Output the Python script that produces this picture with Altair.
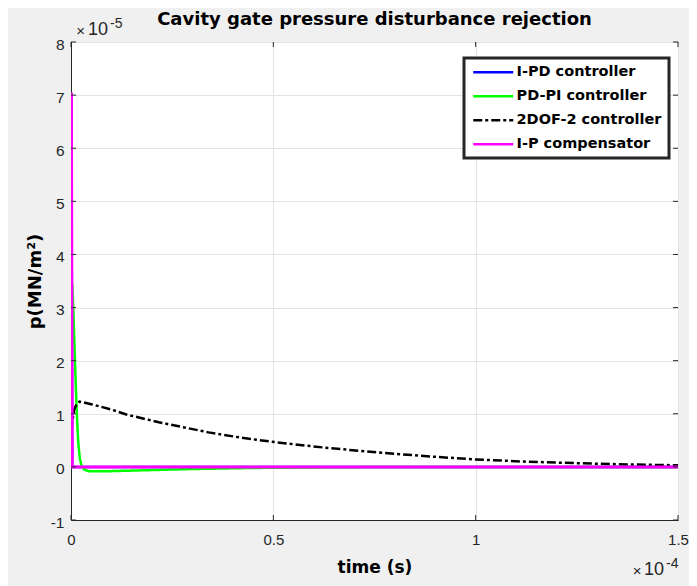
import altair as alt
import pandas as pd

series_names = ["I-PD controller", "PD-PI controller", "2DOF-2 controller", "I-P compensator"]
series_colors = ["#0000ff", "#00ff00", "#000000", "#ff00ff"]
series_dashes = [[1, 0], [1, 0], [9, 3, 3, 3], [1, 0]]
series_widths = [2.5, 2.5, 2.5, 3]

# time in units of 1e-4 s, pressure in units of 1e-5 MN/m^2
ipd_t = [0.0, 0.001, 0.003, 1.5]
ipd_p = [0.0, 7.0, 0.0, 0.0]

pdpi_t = [0.0, 0.003, 0.006, 0.009, 0.012, 0.015, 0.018, 0.022, 0.027, 0.035, 0.045,
          0.07, 0.1, 0.2, 0.3, 0.45, 0.6, 0.8, 1.5]
pdpi_p = [0.0, 3.45, 2.9, 2.2, 1.5, 0.9, 0.45, 0.15, 0.0, -0.06, -0.08,
          -0.08, -0.08, -0.06, -0.04, -0.02, -0.01, 0.0, 0.0]

dof_t = [0.0, 0.004, 0.008, 0.014, 0.021, 0.05, 0.1, 0.135, 0.217, 0.34, 0.42, 0.51,
         0.63, 0.76, 0.88, 1.0, 1.12, 1.25, 1.38, 1.5]
dof_p = [0.68, 0.9, 1.08, 1.19, 1.23, 1.18, 1.08, 0.99, 0.84, 0.65, 0.55, 0.46,
         0.36, 0.27, 0.2, 0.14, 0.1, 0.07, 0.045, 0.03]

ip_t = [0.0, 0.001, 0.003, 1.5]
ip_p = [0.0, 7.05, 0.0, 0.0]

x_ticks = [0, 0.5, 1, 1.5]
y_ticks = [-1, 0, 1, 2, 3, 4, 5, 6, 7, 8]

title_text = "Cavity gate pressure disturbance rejection"

rows = []
for name, ts, ps in zip(series_names, [ipd_t, pdpi_t, dof_t, ip_t], [ipd_p, pdpi_p, dof_p, ip_p]):
    for i, (t, p) in enumerate(zip(ts, ps)):
        rows.append({"series": name, "t": t, "p": p, "i": i})
df = pd.DataFrame(rows)

W, H = 607, 478
AX = "#262626"

xscale = alt.Scale(domain=[0, 1.5], nice=False, zero=False)
yscale = alt.Scale(domain=[-1, 8], nice=False, zero=False)

x_axis = alt.Axis(values=x_ticks, labelExpr="datum.value + ''", title="time (s)", grid=True,
                  gridColor="#e3e3e3", ticks=False, tickSize=0, domainColor=AX,
                  labelFont="Liberation Sans", labelFontSize=15, labelColor=AX,
                  labelFlush=False, labelOverlap=False, labelBound=False,
                  labelPadding=12, titleFont="DejaVu Sans", titleFontWeight="bold",
                  titleFontSize=17, titleColor="#000000", titlePadding=12)
y_axis = alt.Axis(values=y_ticks, labelExpr="datum.value + ''", title="p(MN/m²)", grid=True,
                  gridColor="#e3e3e3", ticks=False, tickSize=0, domainColor=AX,
                  labelFont="Liberation Sans", labelFontSize=15.5, labelColor=AX,
                  labelFlush=False, labelOverlap=False,
                  labelPadding=7, labelOffset=2, titleFont="DejaVu Sans",
                  titleFontWeight="bold", titleFontSize=18, titleColor="#000000",
                  titlePadding=6)

leg = alt.Legend(title=None, orient="none", legendX=393, legendY=16,
                 symbolType="M-4,0H4", symbolSize=100, symbolStrokeWidth=2.5,
                 symbolOffset=15,
                 labelFont="DejaVu Sans", labelFontWeight="bold", labelFontSize=14.5,
                 labelColor="#000000", labelOffset=16, fillColor="white",
                 strokeColor=AX, padding=7, rowPadding=9)

color = alt.Color("series:N", scale=alt.Scale(domain=series_names, range=series_colors),
                  sort=series_names, legend=leg)
dash = alt.StrokeDash("series:N", scale=alt.Scale(domain=series_names, range=series_dashes),
                      sort=series_names, legend=leg)

X = alt.X("t:Q", scale=xscale, axis=x_axis)
Y = alt.Y("p:Q", scale=yscale, axis=y_axis)

layers = []
for name, sw in zip(series_names, series_widths):
    layers.append(
        alt.Chart(df).transform_filter(alt.datum.series == name)
        .mark_line(strokeWidth=sw, clip=True)
        .encode(x=X, y=Y, color=color, strokeDash=dash, order=alt.Order("i:Q"))
    )

xt = pd.DataFrame({"t": x_ticks})
yt = pd.DataFrame({"p": y_ticks})
tick_bottom = alt.Chart(xt).mark_rule(color=AX).encode(x=X, y=alt.value(H), y2=alt.value(H - 5))
tick_top = alt.Chart(xt).mark_rule(color=AX).encode(x=X, y=alt.value(0), y2=alt.value(5))
tick_left = alt.Chart(yt).mark_rule(color=AX).encode(y=Y, x=alt.value(0), x2=alt.value(5))
tick_right = alt.Chart(yt).mark_rule(color=AX).encode(y=Y, x=alt.value(W), x2=alt.value(W - 5))

def txt(s, x, y, size, align, font="Liberation Sans", weight="normal", col=AX):
    return alt.Chart(pd.DataFrame({"s": [s]})).mark_text(
        align=align, baseline="middle", font=font, fontSize=size, fontWeight=weight, color=col
    ).encode(x=alt.value(x), y=alt.value(y), text="s:N")

title_mark = txt(title_text, W / 2, -22, 18, "center", "DejaVu Sans", "bold", "#000000")
exp_y0 = txt("×", 9.5, -11, 15, "center")
exp_y1 = txt("10", 17, -12, 18, "left")
exp_y2 = txt("-5", 39, -18, 14, "left")
exp_x0 = txt("×", 566, H + 51, 15, "center")
exp_x1 = txt("10", 573, H + 50, 18, "left")
exp_x2 = txt("-4", 595, H + 44, 14, "left")

chart = alt.layer(*layers, tick_bottom, tick_top, tick_left, tick_right,
                  title_mark, exp_y0, exp_y1, exp_y2, exp_x0, exp_x1, exp_x2).properties(
    width=W, height=H,
    autosize=alt.AutoSizeParams(type="none"),
    padding={"left": 63, "top": 34, "right": 11, "bottom": 66},
    background="#f0f0f0",
).configure_view(stroke=AX, strokeWidth=1, fill="white").configure_legend(strokeWidth=3)

chart.save("out.html", embed_options={"renderer": "svg", "actions": False})
